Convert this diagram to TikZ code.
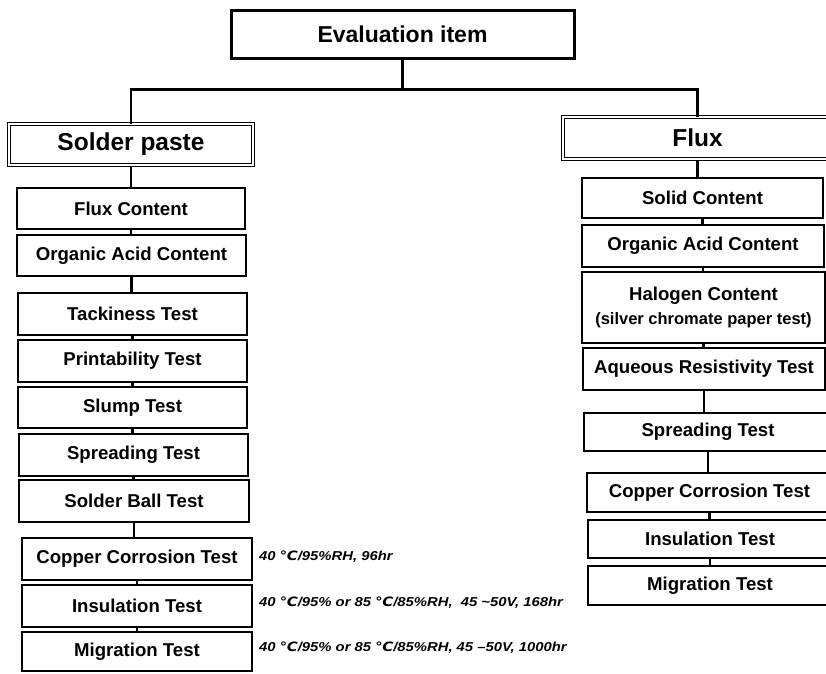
\documentclass[tikz,border=0pt]{standalone}
\usepackage{fontspec}
\setmainfont{Liberation Sans}
\newfontfamily\dejavu{DejaVu Sans}
\usetikzlibrary{calc}
\newcommand\degc{{\dejavu ℃}}
\newcommand\boxat[7][stepbox]{\node[#1, minimum width={#4-#3}, minimum height={#6-#5}] (#2) at ({(#3+#4)/2},{(#5+#6)/2}) {#7};}
\begin{document}
\begin{tikzpicture}[x=1pt,y=-1pt,
  stepbox/.style={draw=black, line width=1.3pt, rectangle, inner sep=0pt, align=center,
    font=\fontsize{18.6}{20}\selectfont\bfseries},
  headbox/.style={draw=black, line width=1pt, double, double distance=2pt, rectangle, inner sep=0pt,
    font=\fontsize{24.5}{26}\selectfont\bfseries},
  topbox/.style={draw=black, line width=3pt, rectangle, inner sep=0pt,
    font=\fontsize{23}{26}\selectfont\bfseries},
  conn/.style={draw=black, line width=2.6pt},
  note/.style={anchor=west, inner sep=0pt, font=\fontsize{12.9}{14}\selectfont\bfseries\itshape}]
\useasboundingbox[fill=white] (0,0) rectangle (826,673);

% top
\boxat[topbox]{top}{231}{574}{10}{58}{Evaluation item}
\boxat[headbox]{sp}{9}{253}{124}{165}{Solder paste}
\boxat[headbox]{fx}{563}{832}{117}{159}{Flux}

% left column
\boxat{fc}{17}{245}{188}{229}{Flux Content}
\boxat{oac}{17}{246}{235}{276}{Organic Acid Content}
\boxat{tack}{18}{247}{293}{335}{Tackiness Test}
\boxat{prnt}{18}{247}{340}{382}{Printability Test}
\boxat{slmp}{18}{247}{387}{428}{Slump Test}
\boxat{sprd}{19}{248}{434}{476}{Spreading Test}
\boxat{sbal}{19}{249}{480}{522}{Solder Ball Test}
\boxat{ccor}{22}{252}{538}{580}{Copper Corrosion Test}
\boxat{insl}{22}{252}{585}{627}{Insulation Test}
\boxat{migr}{22}{252}{632}{671}{Migration Test}

% right column
\boxat{sc}{582}{823}{178}{218}{Solid Content}
\boxat{roac}{582}{824}{225}{267}{Organic Acid Content}
\boxat{hal}{582}{825}{272}{343}{Halogen Content\\[4pt]{\fontsize{16.5}{18}\selectfont(silver chromate paper test)}}
\boxat{aq}{583}{825}{348}{390}{Aqueous Resistivity Test}
\boxat{rsprd}{584}{832}{413}{451}{Spreading Test}
\boxat{rccor}{587}{832}{473}{512}{Copper Corrosion Test}
\boxat{rinsl}{588}{832}{520}{558}{Insulation Test}
\boxat{rmigr}{588}{832}{566}{605}{Migration Test}

% notes
\node[note] (n1) at (259,557) {\scalebox{1.15}[1]{40 \degc/95\%RH, 96hr}};
\node[note] (n2) at (259,603) {\scalebox{1.15}[1]{40 \degc/95\% or 85 \degc/85\%RH,\ \ 45 \textasciitilde50V, 168hr}};
\node[note] (n3) at (259,648) {\scalebox{1.15}[1]{40 \degc/95\% or 85 \degc/85\%RH, 45 –50V, 1000hr}};

% tree connectors
\coordinate (hb) at ($(top.south)+(0,30)$);
\draw[conn] (top.south) -- (hb);
\draw[conn] (sp.north) -- (sp.north |- hb) -- (fx.north |- hb) -- (fx.north);

% left spine
\foreach \a/\b in {sp/fc, fc/oac, oac/tack, tack/prnt, prnt/slmp, slmp/sprd, sprd/sbal, sbal/ccor, ccor/insl, insl/migr}
  \draw[conn] (\a.south) -- (\a.south |- \b.north);
% right spine
\foreach \a/\b in {fx/sc, sc/roac, roac/hal, hal/aq, aq/rsprd, rsprd/rccor, rccor/rinsl, rinsl/rmigr}
  \draw[conn] (\a.south) -- (\a.south |- \b.north);
\end{tikzpicture}
\end{document}
